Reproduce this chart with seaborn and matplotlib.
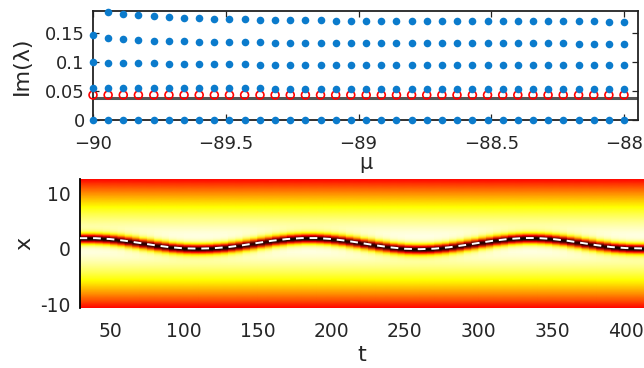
import numpy as np
import matplotlib
matplotlib.use("Agg")
import matplotlib.pyplot as plt
import seaborn as sns
from matplotlib.transforms import ScaledTranslation

# ---------------- data: top panel (Im(lambda) vs mu) ----------------
mu = [-90.000, -89.943, -89.886, -89.829, -89.771, -89.714, -89.657, -89.600,
      -89.543, -89.486, -89.429, -89.371, -89.314, -89.257, -89.200, -89.143,
      -89.086, -89.029, -88.971, -88.914, -88.857, -88.800, -88.743, -88.686,
      -88.629, -88.571, -88.514, -88.457, -88.400, -88.343, -88.286, -88.229,
      -88.171, -88.114, -88.057, -88.000]

im_row0 = [0.0] * 36
im_row2 = [0.0547] * 12 + [0.0542] * 12 + [0.0536] * 12
im_row3 = [0.1000, 0.0986, 0.0983, 0.0980, 0.0976, 0.0973, 0.0970, 0.0967, 0.0964, 0.0962,
           0.0959, 0.0957, 0.0955, 0.0954, 0.0952, 0.0951, 0.0950, 0.0949, 0.0948, 0.0947,
           0.0947, 0.0946, 0.0946, 0.0945, 0.0945, 0.0944, 0.0944, 0.0943, 0.0943, 0.0943,
           0.0942, 0.0942, 0.0942, 0.0942, 0.0941, 0.0941]
im_row4 = [0.1466, 0.1420, 0.1391, 0.1379, 0.1368, 0.1362, 0.1356, 0.1351, 0.1345, 0.1345,
           0.1339, 0.1339, 0.1336, 0.1333, 0.1333, 0.1330, 0.1330, 0.1329, 0.1328, 0.1327,
           0.1326, 0.1325, 0.1325, 0.1324, 0.1323, 0.1323, 0.1322, 0.1322, 0.1321, 0.1321,
           0.1320, 0.1320, 0.1319, 0.1319, 0.1318, 0.1318]
mu_row5 = mu[1:]
im_row5 = [0.1862, 0.1828, 0.1805, 0.1788, 0.1776, 0.1764, 0.1753, 0.1747, 0.1741, 0.1736,
           0.1732, 0.1728, 0.1724, 0.1721, 0.1718, 0.1716, 0.1713, 0.1711, 0.1709, 0.1708,
           0.1707, 0.1706, 0.1705, 0.1704, 0.1703, 0.1702, 0.1702, 0.1701, 0.1701, 0.1700,
           0.1700, 0.1699, 0.1699, 0.1698, 0.1698]
im_red = [0.0431] * 36
im_level = 0.0384

top_xticks = [-90, -89.5, -89, -88.5, -88]
top_xticklabels = ["\u221290", "\u221289.5", "\u221289", "\u221288.5", "\u221288"]
top_yticks = [0, 0.05, 0.1, 0.15]
top_yticklabels = ["0", "0.05", "0.1", "0.15"]

# ---------------- data: bottom panel (density x vs t) ----------------
t_traj = [20, 30, 40, 50, 60, 70, 80, 90, 100, 110, 120, 130, 140, 150, 160, 170,
          180, 190, 200, 210, 220, 230, 240, 250, 260, 270, 280, 290, 300, 310,
          320, 330, 340, 350, 360, 370, 380, 390, 400, 410, 420]
x_traj = [0.71, 0.86, 0.86, 0.70, 0.40, 0.00, -0.40, -0.75, -0.97, -1.02, -0.95, -0.75,
          -0.41, 0.00, 0.40, 0.70, 0.87, 0.88, 0.71, 0.40, 0.00, -0.42, -0.79, -1.05,
          -1.12, -1.03, -0.78, -0.41, 0.00, 0.40, 0.70, 0.88, 0.88, 0.71, 0.40, 0.00,
          -0.40, -0.74, -0.92, -0.98, -0.95]
bg_peak = 1.0          # background peak density
bg_coef = 0.01245      # background fall-off coefficient
bg_power = 1.6         # background fall-off exponent
sol_width = 0.8        # dark soliton width
bot_yticks = [-10, 0, 10]
bot_yticklabels = ["-10", "0", "10"]
bot_xticks = [50, 100, 150, 200, 250, 300, 350, 400]

# ---------------- styling ----------------
sns.set_style("ticks")
plt.rcParams["font.family"] = ["DejaVu Sans"]
plt.rcParams["xtick.direction"] = "in"
plt.rcParams["ytick.direction"] = "in"

blue = "#0b7bcc"
W, H = 644, 368
fig = plt.figure(figsize=(W / 100, H / 100), dpi=100)

ax1 = fig.add_axes([93 / W, 1 - 120 / H, 545 / W, 109 / H])
ax2 = fig.add_axes([80 / W, 1 - 308 / H, 564 / W, 129 / H])

# ---- top panel ----
ax1.axhline(im_level, color="#555555", lw=2.2, zorder=2)
for xs, ys in [(mu, im_row0), (mu, im_row2), (mu, im_row3), (mu, im_row4), (mu_row5, im_row5)]:
    sns.scatterplot(x=xs, y=ys, ax=ax1, color=blue, s=30, linewidth=0,
                    marker="o", zorder=5, clip_on=False)
sns.scatterplot(x=mu, y=im_red, ax=ax1, marker="o", s=32, facecolor="none",
                edgecolor="red", linewidth=1.2, zorder=4, clip_on=False)

ax1.set_xlim(-90, -90 + 545 / 265.5)
ax1.set_ylim(0, 0.188)
ax1.set_xticks(top_xticks)
ax1.set_xticklabels(top_xticklabels)
ax1.set_yticks(top_yticks)
ax1.set_yticklabels(top_yticklabels)
ax1.tick_params(axis="both", which="both", top=True, right=True, length=4,
                width=0.9, color="#222222", labelsize=13)
ax1.tick_params(axis="x", pad=11)
ax1.tick_params(axis="y", pad=6)
for s in ax1.spines.values():
    s.set_visible(True)
    s.set_color("#222222")
    s.set_linewidth(1.3)
ax1.set_xlabel("\u03bc", fontsize=15, labelpad=0)
ax1.set_ylabel("Im(\u03bb)", fontsize=16, labelpad=9)

# ---- bottom panel ----
x_grid = np.linspace(-11.7, 11.5, 480)
t_arr = np.asarray(t_traj, dtype=float)
x_arr = np.asarray(x_traj, dtype=float)
background = np.clip(bg_peak - bg_coef * np.abs(x_grid) ** bg_power, 0, None)
field = background[:, None] * np.tanh((x_grid[:, None] - x_arr[None, :]) / sol_width) ** 2
ax2.pcolormesh(t_arr, x_grid, field, shading="gouraud", cmap="hot",
               vmin=0, vmax=1.0, rasterized=True, zorder=1)
sns.lineplot(x=t_traj, y=x_traj, ax=ax2, color="white", lw=1.4,
             linestyle=(0, (4, 3)), zorder=3)

ax2.set_xlim(29.6, 29.6 + 564 / 1.474)
ax2.set_ylim(-11.7, 11.5)
ax2.set_xticks(bot_xticks)
ax2.set_yticks(bot_yticks)
ax2.set_yticklabels(bot_yticklabels)
ax2.tick_params(axis="x", length=0, labelsize=13.5, pad=10)
ax2.tick_params(axis="y", left=True, right=True, length=4, width=0.9,
                color="#333333", labelsize=13.5, pad=7)
for name, s in ax2.spines.items():
    s.set_visible(name == "left")
ax2.spines["left"].set_color("black")
ax2.spines["left"].set_linewidth(1.3)
ax2.spines["left"].set_zorder(2)
off = ScaledTranslation(0, -6 / 100, fig.dpi_scale_trans)
for lab in ax2.get_yticklabels():
    lab.set_transform(lab.get_transform() + off)
ax2.set_xlabel("t", fontsize=16, labelpad=3)
ax2.set_ylabel("x", fontsize=16, labelpad=4)

fig.savefig("out.png", dpi=100)
